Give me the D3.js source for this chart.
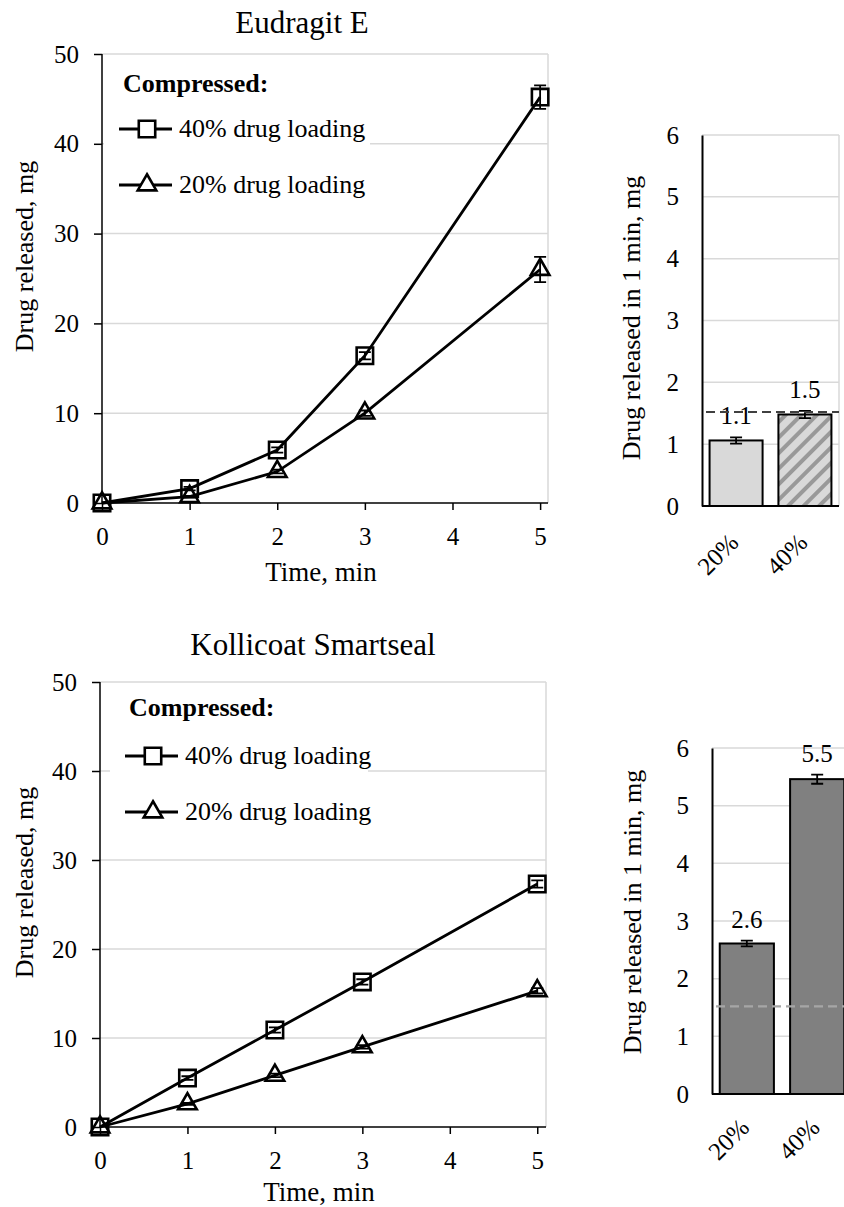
<!DOCTYPE html>
<html><head><meta charset="utf-8">
<script src="https://cdn.jsdelivr.net/npm/d3@7"></script>
<style>body{margin:0;background:#fff}svg{display:block}text{font-family:"Liberation Serif","Times New Roman",serif;fill:#000}</style>
</head><body><svg id="c" width="844" height="1207"></svg>
<script>
// ---- data ----
const timeMin = [0, 1, 2, 3, 5];
const xTicks = [0, 1, 2, 3, 4, 5];
const yTicksLine = [0, 10, 20, 30, 40, 50];
const yTicksBar = [0, 1, 2, 3, 4, 5, 6];
const legendLabels = ["40% drug loading", "20% drug loading"];
const titles = ["Eudragit E", "Kollicoat Smartseal"];

const eudragit40 = [0, 1.6, 5.9, 16.4, 45.2];
const eudragit40Err = [0, 0.2, 0.3, 0.4, 1.3];
const eudragit20 = [0, 0.7, 3.5, 10.0, 26.0];
const eudragit20Err = [0, 0.1, 0.2, 0.3, 1.4];
const kolli40 = [0, 5.5, 10.9, 16.3, 27.3];
const kolli40Err = [0, 0.2, 0.3, 0.3, 0.4];
const kolli20 = [0, 2.6, 5.8, 9.0, 15.3];
const kolli20Err = [0, 0.1, 0.2, 0.2, 0.3];

const barCats = ["20%", "40%"];
const eudragitBars = [1.06, 1.48];
const eudragitBarErr = [0.05, 0.06];
const kolliBars = [2.61, 5.46];
const kolliBarErr = [0.05, 0.08];
const referenceLine = 1.52;

const FT = 25, FL = 27, FY = 26, FTITLE = 31, FLEG = 26;

const svg = d3.select("#c");
const defs = svg.append("defs");
const pat = defs.append("pattern").attr("id","hatch").attr("patternUnits","userSpaceOnUse")
  .attr("width",11).attr("height",11).attr("patternTransform","rotate(45)");
pat.append("rect").attr("width",11).attr("height",11).attr("fill","#d9d9d9");
pat.append("rect").attr("x",0).attr("width",4).attr("height",11).attr("fill","#999999");

function lineChart(o){
  const g = svg.append("g");
  const x = d3.scaleLinear().domain([0, o.xmax]).range([o.x0, o.x1]);
  const y = d3.scaleLinear().domain([0, 50]).range([o.y0, o.y1]);
  g.selectAll(".gy").data(yTicksLine.filter(d=>d>0)).join("line")
    .attr("x1",o.x0).attr("x2",o.x1).attr("y1",d=>y(d)).attr("y2",d=>y(d))
    .attr("stroke","#d9d9d9").attr("stroke-width",1.5);
  g.append("line").attr("x1",o.x1).attr("x2",o.x1).attr("y1",o.y0).attr("y2",o.y1)
    .attr("stroke","#d9d9d9").attr("stroke-width",1.5);
  // legend box (covers gridlines)
  g.append("rect").attr("x",o.bx).attr("y",o.by).attr("width",o.bw).attr("height",o.bh).attr("fill","#fff");
  const ya = g.append("g").attr("transform",`translate(${o.x0},0)`)
    .call(d3.axisLeft(y).tickValues(yTicksLine).tickFormat(d3.format("d")).tickSize(8).tickPadding(15));
  const xa = g.append("g").attr("transform",`translate(0,${o.y0})`)
    .call(d3.axisBottom(x).tickValues(xTicks).tickFormat(d3.format("d")).tickSize(7).tickPadding(17));
  [ya,xa].forEach(a=>{
    a.attr("font-family",null).attr("font-size",null);
    a.select(".domain").attr("stroke","#000").attr("stroke-width",1.5);
    a.selectAll(".tick line").attr("stroke","#000").attr("stroke-width",1.5);
    a.selectAll("text").attr("font-size",FT);
  });
  xa.select(".domain").attr("d",`M${o.x0},0H${o.x1}`);
  ya.select(".domain").attr("d",`M0,${o.y0}V${o.y1}`);
  g.append("text").attr("x",o.tx).attr("y",o.ty).attr("text-anchor","middle").attr("font-size",FTITLE).text(o.title);
  g.append("text").attr("transform",`translate(${o.ylx},${(o.y0+o.y1)/2-22}) rotate(-90)`)
    .attr("text-anchor","middle").attr("font-size",FY).text("Drug released, mg");
  g.append("text").attr("x",(o.x0+o.x1)/2-4).attr("y",o.y0+o.xlDy).attr("text-anchor","middle").attr("font-size",FL).text("Time, min");
  const series = [
    {v:o.s40, e:o.e40, sym:d3.symbolSquare, size:270},
    {v:o.s20, e:o.e20, sym:d3.symbolTriangle, size:150}
  ];
  const line = d3.line().x((d,i)=>x(timeMin[i])).y(d=>y(d));
  series.forEach(s=>{
    g.append("path").datum(s.v).attr("d",line).attr("fill","none").attr("stroke","#000").attr("stroke-width",2.8);
  });
  series.forEach(s=>{
    s.v.forEach((v,i)=>{
      if(s.e[i]<=0) return;
      const cx=x(timeMin[i]);
      g.append("path").attr("d",`M${cx},${y(v-s.e[i])}V${y(v+s.e[i])}M${cx-6},${y(v-s.e[i])}H${cx+6}M${cx-6},${y(v+s.e[i])}H${cx+6}`)
        .attr("stroke","#000").attr("stroke-width",1.8).attr("fill","none");
    });
    g.selectAll(null).data(s.v).join("path")
      .attr("transform",(d,i)=>`translate(${x(timeMin[i])},${y(d)})`)
      .attr("d",d3.symbol().type(s.sym).size(s.size)).attr("fill","none").attr("stroke","#000").attr("stroke-width",2.6);
  });
  // legend
  g.append("text").attr("x",o.lx).attr("y",o.cy).attr("font-size",FLEG).attr("font-weight","bold").text("Compressed:");
  series.forEach((s,i)=>{
    const yy = o.ly[i];
    g.append("line").attr("x1",o.lx-4).attr("x2",o.lx+49).attr("y1",yy).attr("y2",yy).attr("stroke","#000").attr("stroke-width",2.8);
    g.append("path").attr("transform",`translate(${o.lx+24},${yy})`).attr("d",d3.symbol().type(s.sym).size(s.size))
      .attr("fill","#fff").attr("stroke","#000").attr("stroke-width",2.6);
    g.append("text").attr("x",o.lx+56).attr("y",yy+8).attr("font-size",FLEG).text(legendLabels[i]);
  });
}

function barChart(o){
  const g = svg.append("g");
  const x = d3.scaleBand().domain(barCats).range([o.x0,o.x1]).paddingInner(0.23).paddingOuter(0.11);
  const y = d3.scaleLinear().domain([0,6]).range([o.y0,o.y1]);
  g.selectAll(".gy").data(yTicksBar.filter(d=>d>0)).join("line")
    .attr("x1",o.x0).attr("x2",o.x1).attr("y1",d=>y(d)).attr("y2",d=>y(d))
    .attr("stroke","#d9d9d9").attr("stroke-width",1.5);
  if(o.rightGrid) g.append("line").attr("x1",o.x1).attr("x2",o.x1).attr("y1",o.y0).attr("y2",o.y1).attr("stroke","#d9d9d9").attr("stroke-width",1.5);
  g.selectAll(".bar").data(o.vals).join("rect")
    .attr("x",(d,i)=>x(barCats[i])).attr("width",x.bandwidth())
    .attr("y",d=>y(d)).attr("height",d=>o.y0-y(d))
    .attr("fill",(d,i)=>o.fills[i]).attr("stroke","#000").attr("stroke-width",2);
  const ya = g.append("g").attr("transform",`translate(${o.x0},0)`)
    .call(d3.axisLeft(y).tickValues(yTicksBar).tickFormat(d3.format("d")).tickSize(0).tickPadding(23));
  ya.attr("font-family",null).attr("font-size",null);
  ya.select(".domain").attr("stroke","#000").attr("stroke-width",2);
  ya.selectAll("text").attr("font-size",FT);
  g.append("line").attr("x1",o.x0).attr("x2",o.x1).attr("y1",o.y0).attr("y2",o.y0).attr("stroke","#000").attr("stroke-width",2);
  o.vals.forEach((v,i)=>{
    const cx = x(barCats[i])+x.bandwidth()/2, e=o.errs[i];
    g.append("path").attr("d",`M${cx},${y(v-e)}V${y(v+e)}M${cx-6},${y(v-e)}H${cx+6}M${cx-6},${y(v+e)}H${cx+6}`)
      .attr("stroke","#000").attr("stroke-width",1.8).attr("fill","none");
    g.append("text").attr("x",cx).attr("y",y(v+e)-13).attr("text-anchor","middle").attr("font-size",FT)
      .text(d3.format(".1f")(v));
  });
  g.append("line").attr("x1",o.x0+4).attr("x2",o.x1).attr("y1",y(referenceLine)).attr("y2",y(referenceLine))
    .attr("stroke",o.dashColor).attr("stroke-width",2.2).attr("stroke-dasharray","9,5");
  barCats.forEach(c=>{
    const cx = x(c)+x.bandwidth()/2;
    g.append("text").attr("transform",`translate(${cx+4},${o.y0+o.lblDy}) rotate(-45)`)
      .attr("text-anchor","end").attr("font-size",FT).text(c);
  });
  g.append("text").attr("transform",`translate(${o.ylx},${o.ylc}) rotate(-90)`)
    .attr("text-anchor","middle").attr("font-size",FY).text("Drug released in 1 min, mg");
}

lineChart({x0:102, x1:548, xmax:5.09, y0:503, y1:54, s40:eudragit40, e40:eudragit40Err, s20:eudragit20, e20:eudragit20Err,
  title:titles[0], tx:302, ty:33, ylx:33, xlDy:78, lx:123, cy:92, ly:[129,185], bx:104, by:60, bw:266, bh:145});
lineChart({x0:100, x1:546, xmax:5.1, y0:1127, y1:682, s40:kolli40, e40:kolli40Err, s20:kolli20, e20:kolli20Err,
  title:titles[1], tx:313, ty:655, ylx:33, xlDy:74, lx:129, cy:716, ly:[756,812], bx:110, by:690, bw:258, bh:140});
barChart({x0:702, x1:839, y0:506, y1:135, vals:eudragitBars, errs:eudragitBarErr, fills:["#d9d9d9","url(#hatch)"], dashColor:"#404040", ylx:640, ylc:318, lblDy:38, rightGrid:true});
barChart({x0:712, x1:852, y0:1094, y1:748, vals:kolliBars, errs:kolliBarErr, fills:["#808080","#808080"], dashColor:"#a6a6a6", ylx:641, ylc:912, lblDy:35, rightGrid:false});
</script></body></html>
